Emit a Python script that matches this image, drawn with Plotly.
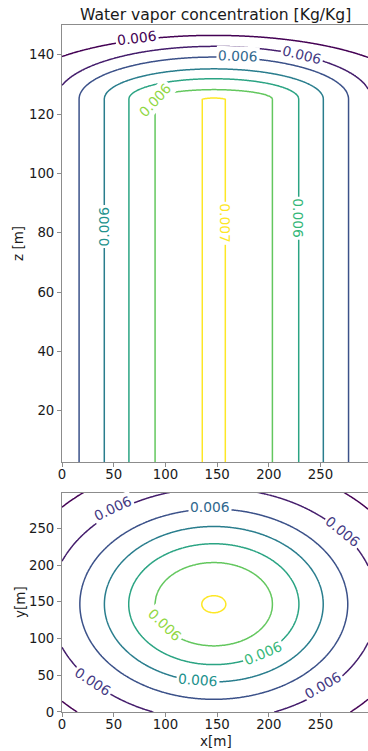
import numpy as np
import plotly.graph_objects as go

# Contour levels of the water vapour field [kg/kg] and their line colours (viridis)
levels = [0.0060, 0.0061, 0.0062, 0.0063, 0.0064, 0.0065, 0.0066]
level_colors = ["#440154", "#443983", "#31688e", "#21918c", "#35b779", "#90d743", "#fde725"]

# Vertical x-z section through the plume axis:
# half-width of each contour below the column top, and how far it bulges above it
column_top = 125.0
xz_halfwidth = [197.5, 152.0, 130.3, 105.9, 82.1, 56.8, 11.1]
xz_rise = [21.5, 17.8, 14.2, 10.2, 6.9, 3.2, 0.3]

# Horizontal x-y section: radius of each contour ring
xy_radius = [197.5, 158.0, 129.5, 105.8, 82.3, 56.8, 11.6]

# Plume axis
x_center = 146.8
y_center = 146.8

x_ticks = [0, 50, 100, 150, 200, 250]
z_ticks = [20, 40, 60, 80, 100, 120, 140]
y_ticks = [0, 50, 100, 150, 200, 250]

x_range = [0, 295.9]
z_range = [2.6, 150.0]
y_range = [0, 298.5]


def field_from_contours(s):
    """s[i] > 1 inside contour i, == 1 on it, < 1 outside.
    Returns a concentration equal to levels[i] on contour i and
    varying linearly in between."""
    lv = np.array(levels)
    n = len(lv)
    k = np.clip((s > 1.0).sum(axis=0) - 1, 0, n - 2)
    s0 = np.take_along_axis(s, k[None], axis=0)[0]
    s1 = np.take_along_axis(s, (k + 1)[None], axis=0)[0]
    diff = s1 - s0
    diff = np.where(np.abs(diff) < 1e-12, -1e-12, diff)
    frac = (1.0 - s0) / diff
    c = lv[k] + (lv[k + 1] - lv[k]) * frac
    # inside the innermost contour: rise gently towards the axis
    inner = s[-1] > 1.0
    c = np.where(inner, lv[-1] + 0.00003 * (1.0 - 1.0 / np.maximum(s[-1], 1.0)), c)
    return c


# x-z section grid
xs = np.arange(0.0, 297.0, 1.0)
zs = np.arange(2.5, 150.5, 0.5)
XX, ZZ = np.meshgrid(xs, zs)
dx = np.abs(XX - x_center)
dz = np.clip(ZZ - column_top, 0.0, None)
hw = np.array(xz_halfwidth)[:, None, None]
rise = np.array(xz_rise)[:, None, None]
dist_xz = np.sqrt((dx / hw) ** 2 + (dz / rise) ** 2)
c_xz = field_from_contours(1.0 / np.maximum(dist_xz, 1e-9))

# x-y section grid
ys = np.arange(0.0, 300.0, 1.0)
XH, YH = np.meshgrid(xs, ys)
rr = np.hypot(XH - x_center, YH - y_center)
rad = np.array(xy_radius)[:, None, None]
c_xy = field_from_contours(rad / np.maximum(rr, 1e-9))

# With coloring="lines" plotly.js samples the colour scale half a step
# above each level, so the stops are placed at (k + 0.5) / (n - 1).
n_lev = len(levels)
colorscale = [[0.0, level_colors[0]]]
for k in range(n_lev - 1):
    colorscale.append([(k + 0.5) / (n_lev - 1), level_colors[k]])
colorscale.append([1.0, level_colors[-1]])

step = levels[1] - levels[0]
contour_spec = dict(start=levels[0], end=levels[-1] + step / 2, size=step,
                    coloring="lines", showlabels=False)

fig = go.Figure()
fig.add_trace(go.Contour(x=xs, y=zs, z=c_xz, contours=contour_spec,
                         colorscale=colorscale, line=dict(width=1.5),
                         showscale=False, hoverinfo="skip",
                         xaxis="x", yaxis="y"))
fig.add_trace(go.Contour(x=xs, y=ys, z=c_xy, contours=contour_spec,
                         colorscale=colorscale, line=dict(width=1.5),
                         showscale=False, hoverinfo="skip",
                         xaxis="x2", yaxis="y2"))

FONT = "DejaVu Sans"
TICK_COLOR = "#8c8c8c"
TEXT_COLOR = "#1a1a1a"

axis_common = dict(showgrid=False, zeroline=False, showline=True, linecolor=TICK_COLOR,
                   linewidth=1, ticks="outside", ticklen=4, tickwidth=1,
                   tickcolor=TICK_COLOR, tickfont=dict(family=FONT, size=13.3, color=TEXT_COLOR))

fig.update_layout(
    width=368, height=751,
    margin=dict(l=62, r=0, t=25, b=39),
    paper_bgcolor="white", plot_bgcolor="white",
    showlegend=False,
    xaxis=dict(domain=[0, 1], range=x_range, tickvals=x_ticks, anchor="y", mirror=True,
               ticklabelstandoff=-4, **axis_common),
    yaxis=dict(domain=[0.3632, 1], range=z_range, tickvals=z_ticks, anchor="x", **axis_common),
    xaxis2=dict(domain=[0, 1], range=x_range, tickvals=x_ticks, anchor="y2", mirror=True,
                ticklabelstandoff=-4, **axis_common),
    yaxis2=dict(domain=[0, 0.3191], range=y_range, tickvals=y_ticks, anchor="x2", **axis_common),
)

annotations = []


def label(level_idx, x, y, angle, xref, yref):
    annotations.append(dict(
        x=x, y=y, xref=xref, yref=yref, text=f"{levels[level_idx]:.3f}",
        showarrow=False, textangle=angle, bgcolor="white", borderpad=1,
        font=dict(family=FONT, size=13.8, color=level_colors[level_idx]),
        xanchor="center", yanchor="middle"))


# inline contour labels, x-z section
label(0, 72.2, 145.5, -7, "x", "y")
label(1, 232.4, 139.8, 14, "x", "y")
label(2, 170.5, 139.4, 2, "x", "y")
label(5, 89.9, 124.8, -47, "x", "y")
label(3, 40.6, 82.1, -90, "x", "y")
label(6, 157.6, 83.2, 90, "x", "y")
label(4, 228.2, 84.9, 90, "x", "y")

# inline contour labels, x-y section
label(1, 49.6, 277.4, -25, "x2", "y2")
label(2, 143.1, 278.8, 0, "x2", "y2")
label(1, 272.1, 245.5, 39, "x2", "y2")
label(5, 99.6, 118.5, 44, "x2", "y2")
label(4, 194.7, 80.8, -23, "x2", "y2")
label(3, 131.8, 43.6, 4, "x2", "y2")
label(1, 30.3, 41.3, 33, "x2", "y2")
label(1, 252.7, 36.8, -30, "x2", "y2")

# title and axis titles, placed in pixels and converted to paper coordinates
plot_w = 368 - 62
plot_h = 751 - 25 - 39


def px_text(text, px, py, size, angle=0):
    annotations.append(dict(x=(px - 62) / plot_w, y=(712 - py) / plot_h, xref="paper", yref="paper",
                            text=text, textangle=angle, showarrow=False,
                            font=dict(family=FONT, size=size, color=TEXT_COLOR),
                            xanchor="center", yanchor="middle"))


px_text("Water vapor concentration [Kg/Kg]", 215.7, 15, 15.6)
px_text("z [m]", 18, 244, 13.5, -90)
px_text("y[m]", 20, 602, 13.5, -90)
px_text("x[m]", 215.7, 741, 13.5)

fig.update_layout(annotations=annotations)
fig.write_html("out.html")
